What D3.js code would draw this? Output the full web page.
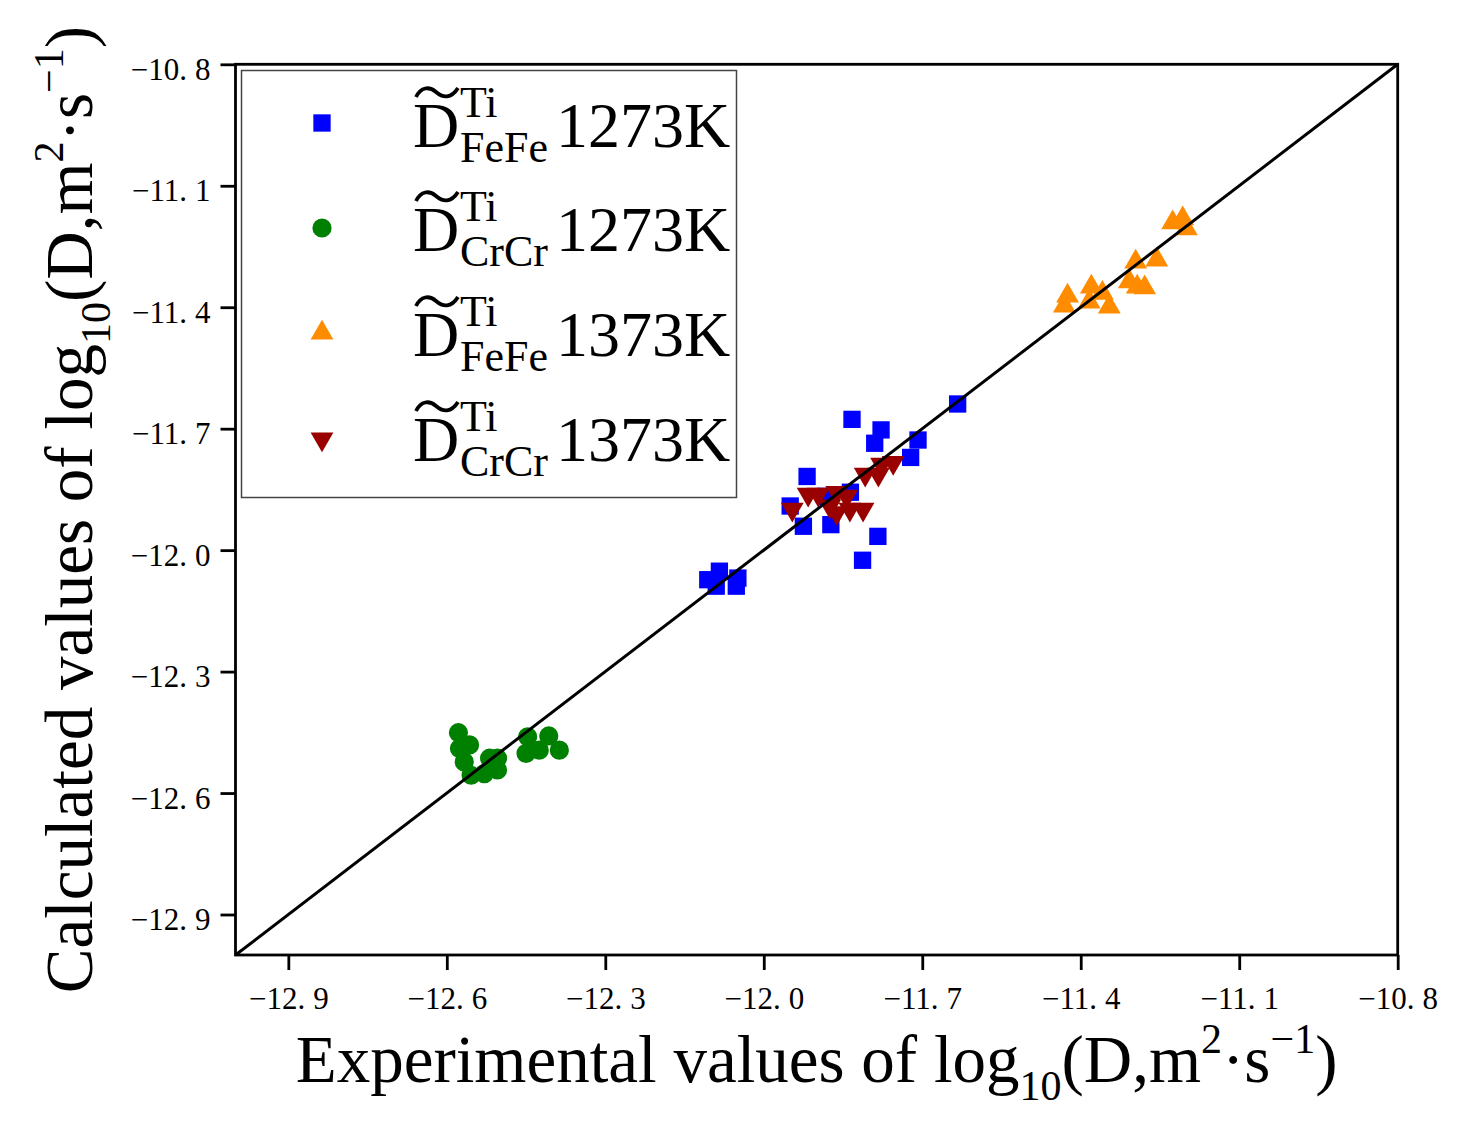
<!DOCTYPE html>
<html>
<head>
<meta charset="utf-8">
<script src="https://cdn.jsdelivr.net/npm/d3@7"></script>
<style>
  body { margin: 0; background: #fff; }
  text { font-family: "Liberation Serif", "Times New Roman", serif; fill: #000; }
</style>
</head>
<body>
<script>
// experimental (x) vs calculated (y) log10 D values
var fefe1273Exp  = [-11.633, -11.833, -11.778, -11.790, -11.708, -11.722, -11.918, -11.950, -11.925, -11.873, -11.836, -11.882, -11.784, -11.813, -12.084, -12.106, -12.049, -12.090, -12.052];
var fefe1273Calc = [-11.639, -11.677, -11.703, -11.736, -11.728, -11.771, -11.818, -11.891, -11.941, -11.937, -11.857, -11.867, -11.966, -12.025, -12.052, -12.073, -12.069, -12.089, -12.089];

var crcr1273Exp  = [-12.578, -12.557, -12.576, -12.567, -12.554, -12.529, -12.519, -12.504, -12.504, -12.447, -12.450, -12.425, -12.407, -12.387];
var crcr1273Calc = [-12.451, -12.481, -12.490, -12.523, -12.556, -12.552, -12.514, -12.514, -12.543, -12.461, -12.502, -12.494, -12.459, -12.494];

var fefe1373Exp  = [-11.226, -11.207, -11.200, -11.296, -11.256, -11.308, -11.293, -11.279, -11.425, -11.431, -11.380, -11.359, -11.384, -11.346];
var fefe1373Calc = [-11.191, -11.181, -11.206, -11.288, -11.283, -11.337, -11.350, -11.352, -11.372, -11.397, -11.350, -11.365, -11.387, -11.399];

var crcr1373Exp  = [-11.946, -11.916, -11.897, -11.862, -11.843, -11.875, -11.862, -11.837, -11.812, -11.808, -11.783, -11.777, -11.755];
var crcr1373Calc = [-11.899, -11.862, -11.862, -11.858, -11.867, -11.891, -11.908, -11.899, -11.899, -11.813, -11.813, -11.788, -11.784];

var tickValues = [-12.9, -12.6, -12.3, -12.0, -11.7, -11.4, -11.1, -10.8];

var seriesNames = ["FeFe", "CrCr", "FeFe", "CrCr"];
var seriesTemps = ["1273K", "1273K", "1373K", "1373K"];

var width = 1473,
    height = 1138;

var margin = {left: 235.5, right: 75.3, top: 64.3, bottom: 183};

var x = d3.scaleLinear().domain([-13.0, -10.8]).range([margin.left, width - margin.right]);
var y = d3.scaleLinear().domain([-13.0, -10.8]).range([height - margin.bottom, margin.top]);

var series = [
  {exp: fefe1273Exp, calc: fefe1273Calc, color: "#0000ff", shape: d3.symbolSquare, size: 300, rot: 0},
  {exp: crcr1273Exp, calc: crcr1273Calc, color: "#008000", shape: d3.symbolCircle, size: 290, rot: 0},
  {exp: fefe1373Exp, calc: fefe1373Calc, color: "#ff8c00", shape: d3.symbolTriangle, size: 225, rot: 0},
  {exp: crcr1373Exp, calc: crcr1373Calc, color: "#990000", shape: d3.symbolTriangle, size: 225, rot: 180}
];

var svg = d3.select("body").append("svg")
    .attr("width", width)
    .attr("height", height);

// markers
series.forEach(function(s) {
  var sym = d3.symbol().type(s.shape).size(s.size);
  svg.append("g").selectAll("path")
      .data(d3.range(s.exp.length))
    .enter().append("path")
      .attr("d", sym)
      .attr("fill", s.color)
      .attr("transform", function(i) {
        return "translate(" + x(s.exp[i]) + "," + y(s.calc[i]) + ") rotate(" + s.rot + ")";
      });
});

// y = x reference line
svg.append("line")
    .attr("x1", x(-13.0)).attr("y1", y(-13.0))
    .attr("x2", x(-10.8)).attr("y2", y(-10.8))
    .attr("stroke", "#000")
    .attr("stroke-width", 3);

// frame
svg.append("rect")
    .attr("x", x.range()[0]).attr("y", y.range()[1])
    .attr("width", x.range()[1] - x.range()[0])
    .attr("height", y.range()[0] - y.range()[1])
    .attr("fill", "none")
    .attr("stroke", "#000")
    .attr("stroke-width", 2.8);

function fmt(d) { return d3.format(".1f")(d).replace("-", "\u2212"); }

function splitLabel(sel) {
  sel.each(function(d) {
    var parts = fmt(d).split(".");
    var t = d3.select(this).text(null);
    t.append("tspan").text(parts[0] + ".");
    t.append("tspan").attr("dx", 8).text(parts[1]);
  });
}

var xAxis = svg.append("g")
    .attr("transform", "translate(0," + y.range()[0] + ")")
    .call(d3.axisBottom(x).tickValues(tickValues).tickSize(15).tickSizeOuter(0));
xAxis.select(".domain").remove();
xAxis.selectAll(".tick line").attr("stroke-width", 2.8);
xAxis.selectAll(".tick text")
    .attr("y", 54).attr("dy", 0)
    .attr("font-size", 31)
    .call(splitLabel);

var yAxis = svg.append("g")
    .attr("transform", "translate(" + x.range()[0] + ",0)")
    .call(d3.axisLeft(y).tickValues(tickValues).tickSize(15).tickSizeOuter(0));
yAxis.select(".domain").remove();
yAxis.selectAll(".tick line").attr("stroke-width", 2.8);
yAxis.selectAll(".tick text")
    .attr("x", -25).attr("y", 15).attr("dy", 0)
    .attr("font-size", 31)
    .call(splitLabel);

// axis titles
function unitLabel(t) {
  t.append("tspan").text("log");
  t.append("tspan").attr("font-size", 42).attr("dy", 18).text("10");
  t.append("tspan").attr("dy", -18).text("(D,m");
  t.append("tspan").attr("font-size", 42).attr("dy", -29).text("2");
  t.append("tspan").attr("dy", 29).text("\u00b7s");
  t.append("tspan").attr("font-size", 42).attr("dy", -29).text("\u22121");
  t.append("tspan").attr("dy", 29).text(")");
}

var xTitle = svg.append("text")
    .attr("x", (x.range()[0] + x.range()[1]) / 2)
    .attr("y", 1082)
    .attr("text-anchor", "middle")
    .attr("font-size", 67);
xTitle.append("tspan").text("Experimental values of ");
unitLabel(xTitle);

var yTitle = svg.append("text")
    .attr("transform", "translate(92," + (y.range()[0] + y.range()[1]) / 2 + ") rotate(-90)")
    .attr("text-anchor", "middle")
    .attr("font-size", 67);
yTitle.append("tspan").text("Calculated values of ");
unitLabel(yTitle);

// legend
var legend = svg.append("g");
legend.append("rect")
    .attr("x", 241.5).attr("y", 70.5)
    .attr("width", 495).attr("height", 427)
    .attr("fill", "#fff")
    .attr("stroke", "#444")
    .attr("stroke-width", 1.5);

var baselines = [147, 251, 356, 461];
var markerY = [123, 228, 333, 439];

series.forEach(function(s, i) {
  var b = baselines[i];
  legend.append("path")
      .attr("d", d3.symbol().type(s.shape).size(s.size))
      .attr("fill", s.color)
      .attr("transform", "translate(322," + markerY[i] + ") rotate(" + s.rot + ")");

  var t = legend.append("text").attr("font-size", 64);
  t.append("tspan").attr("x", 413).attr("y", b).text("D");
  t.append("tspan").attr("x", 460).attr("y", b - 30).attr("font-size", 44).text("Ti");
  t.append("tspan").attr("x", 460).attr("y", b + 15).attr("font-size", 44).text(seriesNames[i]);
  t.append("tspan").attr("x", 556).attr("y", b).text(seriesTemps[i]);

  // wide tilde over the D
  legend.append("path")
      .attr("d", "M416," + (b - 50) + " C421," + (b - 60) + " 429," + (b - 61) + " 436," + (b - 55) +
                 " S451," + (b - 48) + " 458," + (b - 59))
      .attr("fill", "none")
      .attr("stroke", "#000")
      .attr("stroke-width", 3.8);
});
</script>
</body>
</html>
